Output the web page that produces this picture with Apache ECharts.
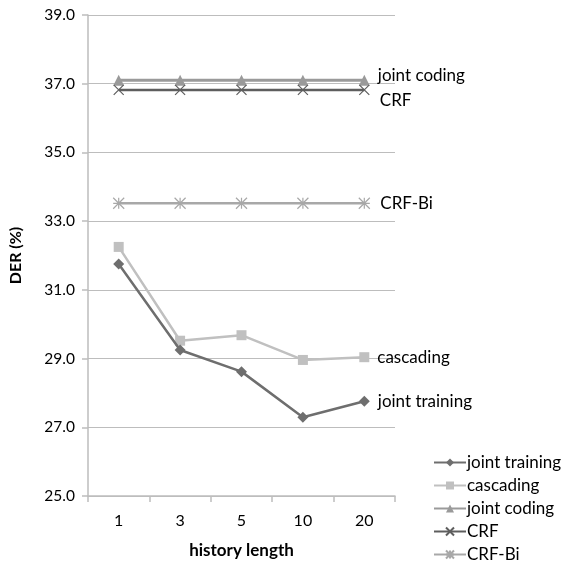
<!DOCTYPE html>
<html><head><meta charset="utf-8">
<script src="https://cdn.jsdelivr.net/npm/echarts@6/dist/echarts.min.js"></script>
<style>html,body{margin:0;padding:0;background:#fff}#c{width:565px;height:577px}</style>
</head><body><div id="c"></div>
<script>
const categories = ['1','3','5','10','20'];
const jointTraining = [31.75, 29.25, 28.62, 27.29, 27.76];
const cascading = [32.25, 29.52, 29.68, 28.96, 29.04];
const jointCoding = [37.1, 37.1, 37.1, 37.1, 37.1];
const crf = [36.82, 36.82, 36.82, 36.82, 36.82];
const crfBi = [33.52, 33.52, 33.52, 33.52, 33.52];
const seriesNames = ['joint training','cascading','joint coding','CRF','CRF-Bi'];
const yTicks = {min: 25, max: 39, interval: 2};

const FONT = 'Lato, "Open Sans", sans-serif';
function endLabel(name, offsetY) {
  return {
    show: true,
    formatter: (p) => p.dataIndex === categories.length - 1 ? name : '',
    position: 'right',
    distance: 8,
    offset: [0, offsetY],
    color: '#000',
    fontFamily: FONT,
    fontSize: 17
  };
}
function mk(name, data, color, symbol, size, width, offY, z, hollow) {
  return {
    name, type: 'line', data, z,
    symbol, symbolSize: size,
    lineStyle: {color, width},
    itemStyle: hollow ? {color: 'none', borderColor: color, borderWidth: 1.2} : {color, borderWidth: 0},
    label: endLabel(name, offY),
    emphasis: {disabled: true},
    animation: false
  };
}
const xSym = 'path://M0,0L10,10M10,0L0,10';
const starSym = 'path://M0,0L10,10M10,0L0,10M5,0L5,10M0,5L10,5';

const chart = echarts.init(document.getElementById('c'), null, {renderer: 'canvas'});
const series = [
  mk(seriesNames[0], jointTraining, '#6e6e6e', 'diamond', 11, 2.5, 0, 5),
  mk(seriesNames[1], cascading, '#c0c0c0', 'rect', 10, 2.5, 0, 4),
  mk(seriesNames[2], jointCoding, '#9a9a9a', 'triangle', 11, 3, -5, 3),
  mk(seriesNames[3], crf, '#5e5e5e', xSym, 10, 2.5, 11, 3, true),
  mk(seriesNames[4], crfBi, '#a8a8a8', starSym, 11, 2.5, 0, 3, true)
];
chart.setOption({
  backgroundColor: '#fff',
  textStyle: {fontFamily: FONT},
  grid: {left: 88, right: 170, top: 15, bottom: 81, containLabel: false},
  legend: {
    orient: 'vertical', left: 428, top: 449, itemGap: 6,
    itemWidth: 32, itemHeight: 10,
    data: seriesNames,
    textStyle: {fontFamily: FONT, fontSize: 17, lineHeight: 17, color: '#000', padding: [0,0,0,-4]},
    selectedMode: false
  },
  xAxis: {
    type: 'category', data: categories, boundaryGap: true,
    name: 'history length', nameLocation: 'middle', nameGap: 46,
    nameTextStyle: {fontFamily: FONT, fontSize: 17, fontWeight: 'bold', color: '#000'},
    axisLine: {lineStyle: {color: '#bdbdbd', width: 1.5}},
    axisTick: {show: true, length: 6, lineStyle: {color: '#bdbdbd', width: 1.5}},
    axisLabel: {fontFamily: FONT, fontSize: 16, color: '#000', margin: 17}
  },
  yAxis: {
    type: 'value', min: yTicks.min, max: yTicks.max, interval: yTicks.interval,
    name: 'DER (%)', nameLocation: 'middle', nameGap: 64, nameRotate: 90,
    nameTextStyle: {fontFamily: FONT, fontSize: 16, fontWeight: 'bold', color: '#000'},
    axisLine: {show: true, lineStyle: {color: '#bdbdbd', width: 1.5}},
    axisTick: {show: true, length: 6, lineStyle: {color: '#bdbdbd', width: 1.5}},
    splitLine: {lineStyle: {color: '#bdbdbd', width: 1.2}},
    axisLabel: {fontFamily: FONT, fontSize: 15.5, color: '#000', margin: 13, formatter: v => v.toFixed(1)}
  },
  series
});
</script></body></html>
